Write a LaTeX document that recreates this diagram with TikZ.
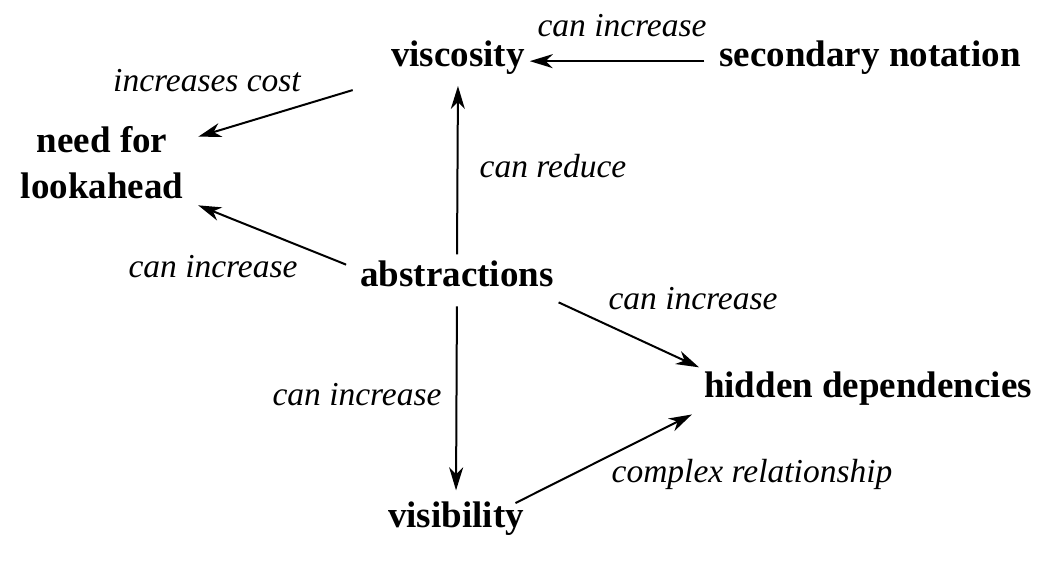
\documentclass[tikz,border=0pt]{standalone}
\usepackage{fontspec}
\setmainfont{Liberation Serif}
\usetikzlibrary{arrows.meta}

\begin{document}
\begin{tikzpicture}[x=1pt, y=-1pt, line width=2pt,
  main/.style = {font=\fontsize{37}{46}\selectfont\bfseries, inner sep=4pt},
  lbl/.style = {font=\fontsize{33.5}{40}\selectfont\itshape, inner sep=0pt},
  arr/.style = {-{Stealth[length=23pt, width=14pt, inset=7pt]}}]
\useasboundingbox (0,0) rectangle (1058,561);
% concepts
\node[main, anchor=base] (visc) at (458,67) {viscosity};
\node[main, anchor=base] (secnot) at (870,67) {secondary notation};
\node[main, align=center, inner xsep=14pt, inner ysep=8pt] (look) at (102,162.5) {need for\\lookahead};
\node[main, anchor=base] (abs) at (457,287) {abstractions};
\node[main, anchor=base] (hid) at (868,398) {hidden dependencies};
\node[main, anchor=base] (vis) at (456,527) {visibility};
% labels
\node[lbl, anchor=base] (l1) at (622,37) {can increase};
\node[lbl, anchor=base] (l2) at (207,92) {increases cost};
\node[lbl, anchor=base] (l3) at (553,178) {can reduce};
\node[lbl, anchor=base] (l4) at (213,278) {can increase};
\node[lbl, anchor=base] (l5) at (693,310) {can increase};
\node[lbl, anchor=base] (l6) at (357,405) {can increase};
\node[lbl, anchor=base] (l7) at (752,482) {complex relationship};
% links
\draw[arr, shorten <=10pt] ([yshift=-3pt]secnot.west) -- ([yshift=-3pt]visc.east);
\draw[arr, shorten <=35pt] (visc.south west) -- (look.15);
\draw[arr, shorten <=2pt, shorten >=6pt] (abs.north) -- (visc.south);
\draw[arr, shorten <=10pt] ([yshift=6pt]abs.west) -- (look.-24);
\draw[arr] ([yshift=-10pt]abs.south east) -- (hid.north west);
\draw[arr, shorten <=14pt, shorten >=6pt] (abs.south) -- (vis.north);
\draw[arr, shorten <=-15pt, shorten >=8pt] (vis.north east) -- (hid.south west);
\end{tikzpicture}
\end{document}
